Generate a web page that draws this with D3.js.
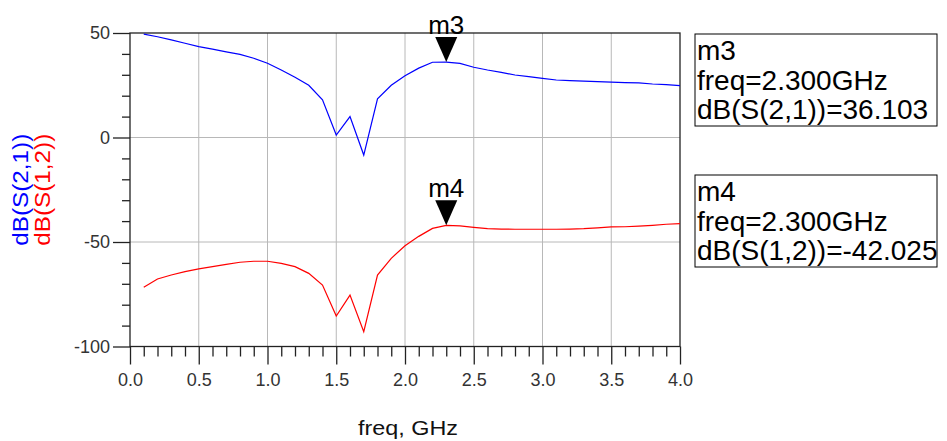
<!DOCTYPE html>
<html>
<head>
<meta charset="utf-8">
<script src="https://cdn.jsdelivr.net/npm/d3@7"></script>
<style>
    html, body { margin: 0; padding: 0; background: #fff; }
    svg { display: block; font-family: "Liberation Sans", Arial, sans-serif; }
</style>
</head>
<body>
<div id="chart"></div>
<script>
// frequency points, GHz
const freq = [0.1, 0.2, 0.3, 0.4, 0.5, 0.6, 0.7, 0.8, 0.9, 1.0,
              1.1, 1.2, 1.3, 1.4, 1.5, 1.6, 1.7, 1.8, 1.9, 2.0,
              2.1, 2.2, 2.3, 2.4, 2.5, 2.6, 2.7, 2.8, 2.9, 3.0,
              3.1, 3.2, 3.3, 3.4, 3.5, 3.6, 3.7, 3.8, 3.9, 4.0];

// dB(S(2,1))
const s21 = [49.5, 48.2, 46.7, 45.1, 43.5, 42.3, 41.0, 39.8, 37.9, 35.5,
             32.3, 28.8, 25.0, 18.0, 1.2, 10.0, -8.4, 18.5, 25.0, 29.5,
             33.2, 36.0, 36.103, 35.5, 33.6, 32.3, 31.2, 29.9, 29.1, 28.3,
             27.5, 27.2, 27.0, 26.7, 26.5, 26.3, 26.1, 25.6, 25.3, 24.8];

// dB(S(1,2))
const s12 = [-71.7, -67.7, -65.8, -64.2, -62.9, -61.8, -60.7, -59.7, -59.2, -59.2,
             -60.2, -61.8, -65.0, -70.6, -85.4, -75.4, -92.9, -65.8, -57.8, -51.8,
             -47.3, -43.5, -42.025, -42.3, -43.0, -43.6, -43.8, -43.9, -43.9, -43.9,
             -43.9, -43.8, -43.6, -43.2, -42.8, -42.7, -42.4, -42.0, -41.5, -41.2];

const xTicks = [0.0, 0.5, 1.0, 1.5, 2.0, 2.5, 3.0, 3.5, 4.0];
const xMinorTicks = [0.1, 0.2, 0.3, 0.4, 0.6, 0.7, 0.8, 0.9, 1.1, 1.2, 1.3, 1.4,
                     1.6, 1.7, 1.8, 1.9, 2.1, 2.2, 2.3, 2.4, 2.6, 2.7, 2.8, 2.9,
                     3.1, 3.2, 3.3, 3.4, 3.6, 3.7, 3.8, 3.9];
const yTicks = [-100, -50, 0, 50];
const yMinorTicks = [-90, -80, -70, -60, -40, -30, -20, -10, 10, 20, 30, 40];

const markerNames = ["m3", "m4"];
const markerFreq = [2.3, 2.3];
const markerValues = [36.103, -42.025];
const markerTraces = ["dB(S(2,1))", "dB(S(1,2))"];

const W = 947, H = 441;
const margin = { top: 33, right: 267, bottom: 94.5, left: 130 };
const width = W - margin.left - margin.right;
const height = H - margin.top - margin.bottom;

const svg = d3.select("#chart").append("svg")
    .attr("width", W)
    .attr("height", H);

const chart = svg.append("g")
    .attr("transform", `translate(${margin.left},${margin.top})`);

const x = d3.scaleLinear().domain([0, 4]).range([0, width]);
const y = d3.scaleLinear().domain([-100, 50]).range([height, 0]);

// grid
chart.append("g")
    .selectAll("line")
    .data(xTicks.slice(1, -1))
    .join("line")
    .attr("x1", d => x(d)).attr("x2", d => x(d))
    .attr("y1", 0).attr("y2", height)
    .attr("stroke", "#b8b8b8").attr("stroke-width", 1);

chart.append("g")
    .selectAll("line")
    .data(yTicks.slice(1, -1))
    .join("line")
    .attr("x1", 0).attr("x2", width)
    .attr("y1", d => y(d)).attr("y2", d => y(d))
    .attr("stroke", "#b8b8b8").attr("stroke-width", 1);

// axes
const styleAxis = g => {
    g.select(".domain").remove();
    g.selectAll(".tick line").attr("stroke", "#222").attr("stroke-width", 1.3);
    g.selectAll(".tick text")
        .attr("fill", "#333")
        .style("font-size", "18px");
};

chart.append("g")
    .attr("transform", `translate(0,${height})`)
    .call(d3.axisBottom(x).tickValues(xMinorTicks).tickSize(10).tickFormat(""))
    .call(styleAxis);

chart.append("g")
    .attr("transform", `translate(0,${height})`)
    .call(d3.axisBottom(x).tickValues(xTicks).tickSize(18).tickPadding(9).tickFormat(d => d.toFixed(1)))
    .call(styleAxis);

chart.append("g")
    .call(d3.axisLeft(y).tickValues(yMinorTicks).tickSize(8).tickFormat(""))
    .call(styleAxis);

chart.append("g")
    .call(d3.axisLeft(y).tickValues(yTicks).tickSize(17).tickPadding(3).tickFormat(d => String(d)))
    .call(styleAxis);

// frame
chart.append("rect")
    .attr("x", 0).attr("y", 0)
    .attr("width", width).attr("height", height)
    .attr("fill", "none")
    .attr("stroke", "#222")
    .attr("stroke-width", 1.3);

// traces
const line = d3.line()
    .x((d, i) => x(freq[i]))
    .y(d => y(d));

chart.append("path")
    .datum(s21)
    .attr("d", line)
    .attr("fill", "none")
    .attr("stroke", "#0000ff")
    .attr("stroke-width", 1.2);

chart.append("path")
    .datum(s12)
    .attr("d", line)
    .attr("fill", "none")
    .attr("stroke", "#ff0000")
    .attr("stroke-width", 1.2);

// markers
markerNames.forEach((name, i) => {
    const mx = x(markerFreq[i]);
    const my = y(markerValues[i]);
    chart.append("path")
        .attr("d", `M${mx},${my} L${mx - 11},${my - 25} L${mx + 11},${my - 25} Z`)
        .attr("fill", "#000");
    chart.append("text")
        .attr("x", mx)
        .attr("y", my - 28)
        .attr("text-anchor", "middle")
        .style("font-size", "26px")
        .attr("fill", "#000")
        .text(name);
});

// marker readout boxes
const boxTop = [34, 175];
markerNames.forEach((name, i) => {
    const bx = 695, by = boxTop[i];
    svg.append("rect")
        .attr("x", bx).attr("y", by)
        .attr("width", 242).attr("height", 92)
        .attr("fill", "#fff")
        .attr("stroke", "#000")
        .attr("stroke-width", 1);
    const lines = [
        name,
        `freq=${markerFreq[i].toFixed(3)}GHz`,
        `${markerTraces[i]}=${markerValues[i].toFixed(3)}`
    ];
    svg.append("g").selectAll("text")
        .data(lines)
        .join("text")
        .attr("x", bx + 2)
        .attr("y", (d, j) => by + 26 + j * 29.5)
        .style("font-size", "28px")
        .attr("fill", "#000")
        .text(d => d);
});

// axis titles
svg.append("text")
    .attr("x", margin.left + width / 2 + 3)
    .attr("y", 435)
    .attr("text-anchor", "middle")
    .attr("textLength", 100)
    .attr("lengthAdjust", "spacingAndGlyphs")
    .style("font-size", "20px")
    .attr("fill", "#111")
    .text("freq, GHz");

const yMid = margin.top + height / 2;
svg.append("text")
    .attr("transform", `translate(28,${yMid}) rotate(-90)`)
    .attr("text-anchor", "middle")
    .attr("textLength", 112)
    .attr("lengthAdjust", "spacingAndGlyphs")
    .style("font-size", "22px")
    .attr("fill", "#0000ff")
    .text("dB(S(2,1))");

svg.append("text")
    .attr("transform", `translate(50,${yMid}) rotate(-90)`)
    .attr("text-anchor", "middle")
    .attr("textLength", 112)
    .attr("lengthAdjust", "spacingAndGlyphs")
    .style("font-size", "22px")
    .attr("fill", "#ff0000")
    .text("dB(S(1,2))");
</script>
</body>
</html>
